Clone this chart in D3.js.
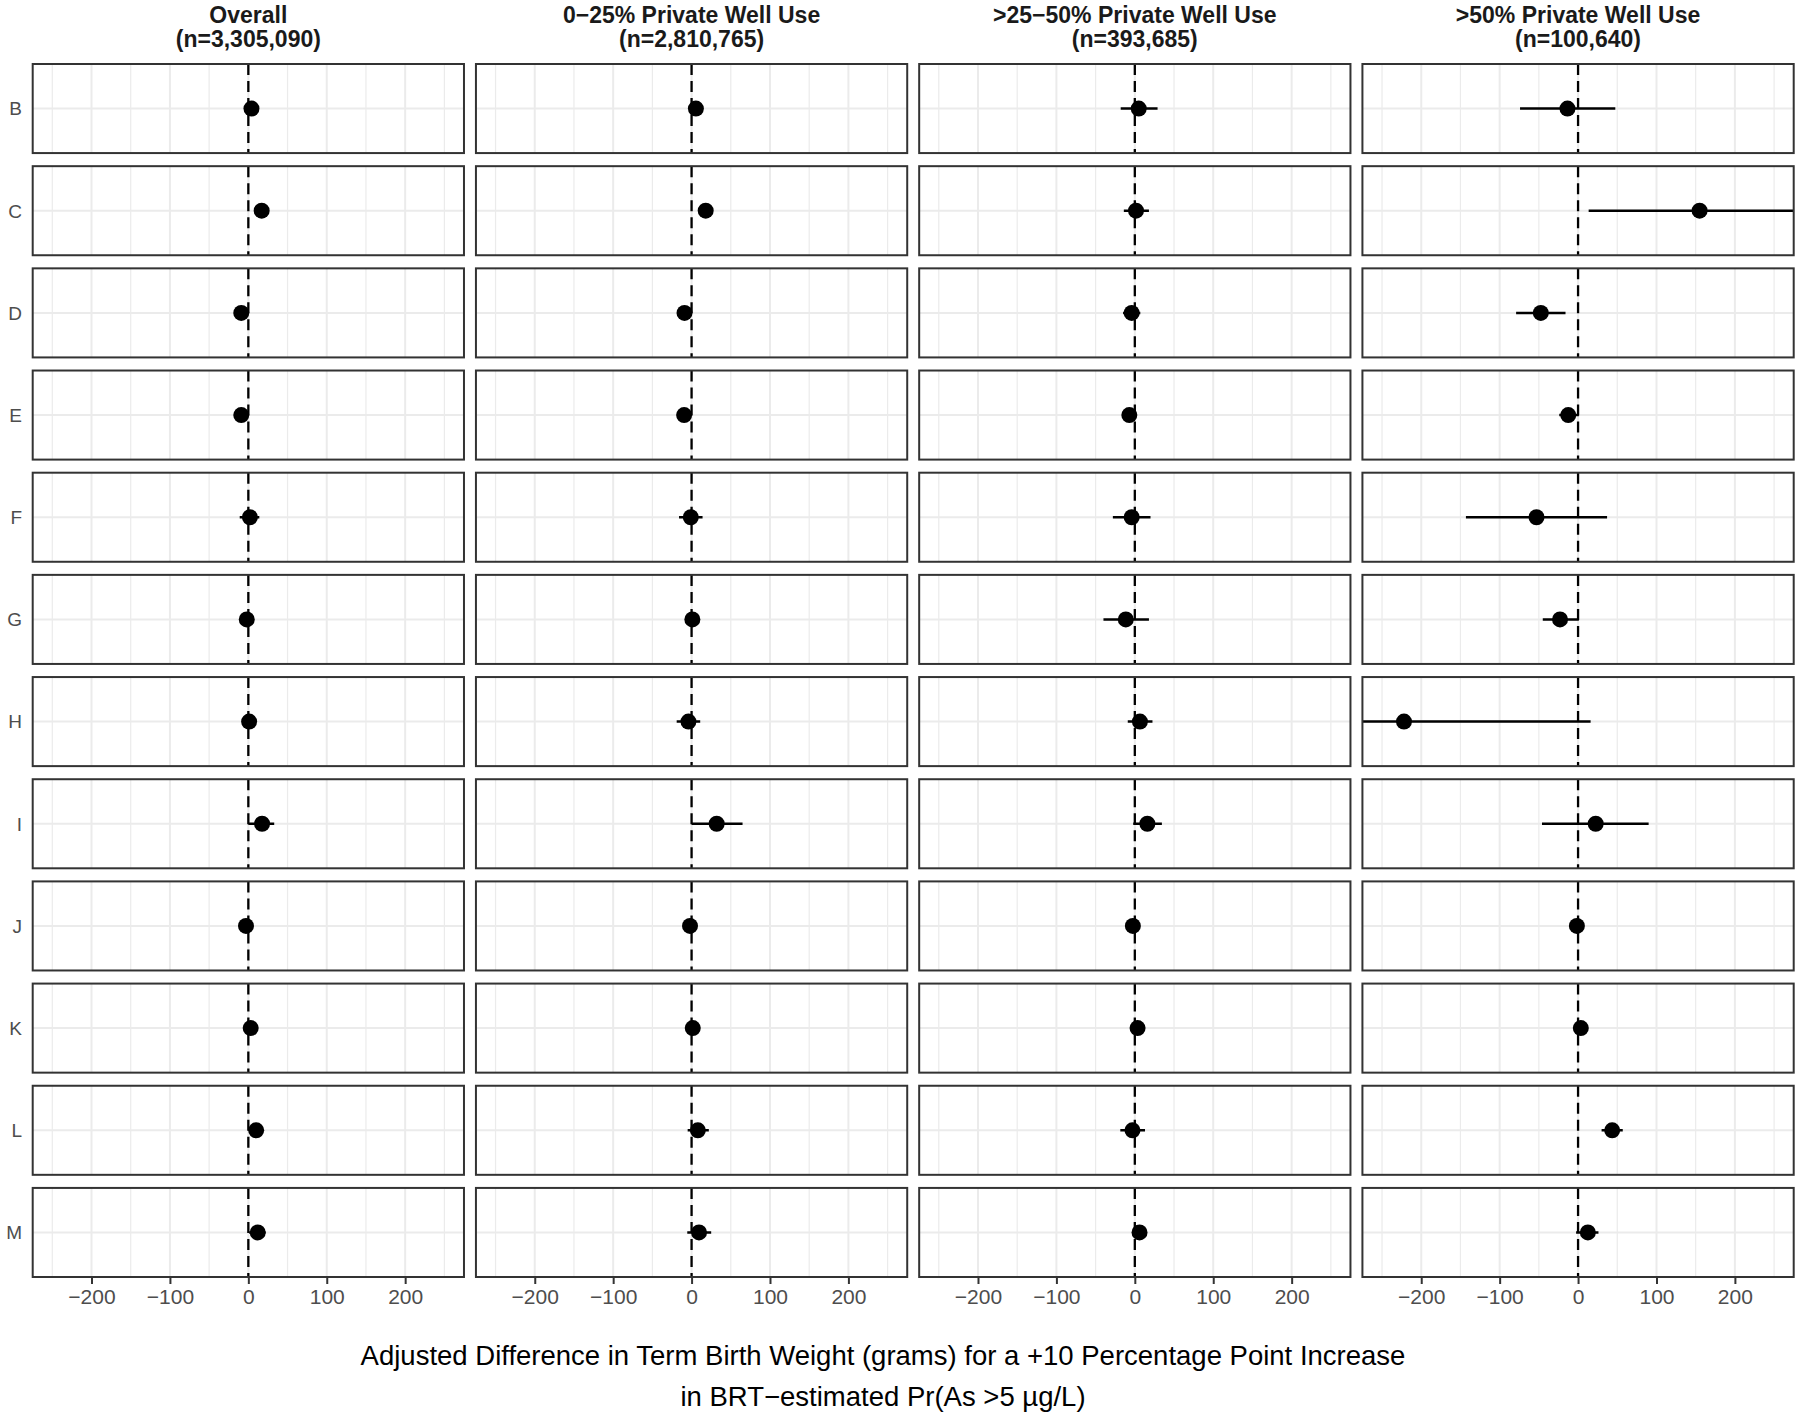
<!DOCTYPE html>
<html>
<head>
<meta charset="utf-8">
<script src="https://cdn.jsdelivr.net/npm/d3@7"></script>
<style>
  body { margin: 0; background: #fff; }
  text { font-family: "Liberation Sans", Arial, Helvetica, sans-serif; }
</style>
</head>
<body>
<svg id="forest" width="1800" height="1416"></svg>
<script>
// categories (rows) and facets (columns)
var rows = ["B", "C", "D", "E", "F", "G", "H", "I", "J", "K", "L", "M"];
var groups = ["Overall", "0\u221225% Private Well Use", ">25\u221250% Private Well Use", ">50% Private Well Use"];
var groupN = ["(n=3,305,090)", "(n=2,810,765)", "(n=393,685)", "(n=100,640)"];

// estimates and 95% CI, one array per facet
var estOverall = [4, 17, -9, -9, 2, -2, 1, 17.5, -3, 3, 10, 12];
var loOverall  = [-2, 10, -15, -14, -11, -7, -5, 0, -8, -2, 4, 1];
var hiOverall  = [10, 24, -3, -4, 14, 3, 7, 33, 2, 8, 16, 22];

var estLow = [5.5, 18, -9, -9.5, -1, 1, -4, 32, -2, 1.5, 8, 9.5];
var loLow  = [0, 12, -15, -15, -16, -4, -19, 0, -7, -3, -5, -5.5];
var hiLow  = [11, 24, -3, -4, 14, 6, 11, 65, 3, 6, 22, 25];

var estMid = [5, 1.5, -4, -7, -4, -11.5, 6.5, 16, -2.5, 3.5, -3, 6];
var loMid  = [-18, -14, -15, -12, -28, -40, -9, -2, -7, -1, -18.5, 0];
var hiMid  = [29, 18, 7, -2, 20, 18, 22.5, 34.5, 2, 8, 13, 12];

var estHigh = [-13.5, 155, -47.5, -12.5, -53, -23, -222, 22.5, -1.5, 3.5, 43.5, 12.5];
var loHigh  = [-74, 13.5, -79, -24, -143, -45, -300, -46, -4, 0, 30, -2.5];
var hiHigh  = [47.5, 300, -16, 1, 37, 1, 16, 90, 1, 7, 57, 26];

// axis ticks
var xDomain = [-275, 275];
var majorTicks = [-200, -100, 0, 100, 200];
var minorTicks = [-250, -150, -50, 50, 150, 250];

var facets = [
  {est: estOverall, lo: loOverall, hi: hiOverall},
  {est: estLow, lo: loLow, hi: hiLow},
  {est: estMid, lo: loMid, hi: hiMid},
  {est: estHigh, lo: loHigh, hi: hiHigh}
];

var svg = d3.select("#forest");

var col = d3.scaleBand()
    .domain(d3.range(groups.length))
    .range([32.7, 1793.7])
    .paddingInner(0.027);

var row = d3.scaleBand()
    .domain(rows)
    .range([64, 1277])
    .paddingInner(0.1283);

var pw = col.bandwidth(), ph = row.bandwidth();

var x = d3.scaleLinear().domain(xDomain).range([0, pw]);

svg.append("defs").append("clipPath")
    .attr("id", "panelClip")
  .append("rect")
    .attr("width", pw)
    .attr("height", ph);

/* facet titles */
groups.forEach(function(gname, gi) {
  var t = svg.append("text")
      .attr("x", col(gi) + pw / 2)
      .attr("text-anchor", "middle")
      .attr("font-size", 23)
      .attr("font-weight", "bold")
      .attr("fill", "#1a1a1a");
  t.append("tspan").attr("x", col(gi) + pw / 2).attr("y", 22.7).text(gname);
  t.append("tspan").attr("x", col(gi) + pw / 2).attr("y", 46.7).text(groupN[gi]);
});

/* row labels */
svg.selectAll(".rowlab")
  .data(rows)
  .enter().append("text")
    .attr("class", "rowlab")
    .attr("x", 22)
    .attr("y", function(d) { return row(d) + ph / 2; })
    .attr("dy", "0.36em")
    .attr("text-anchor", "end")
    .attr("font-size", 19)
    .attr("fill", "#4d4d4d")
    .text(function(d) { return d; });

/* panels */
facets.forEach(function(f, gi) {
  rows.forEach(function(r, ri) {
    var p = svg.append("g")
        .attr("transform", "translate(" + col(gi) + "," + row(r) + ")");

    p.append("rect")
        .attr("width", pw)
        .attr("height", ph)
        .attr("fill", "#fff");

    p.selectAll(".minor")
      .data(minorTicks)
      .enter().append("line")
        .attr("x1", function(d) { return x(d); })
        .attr("x2", function(d) { return x(d); })
        .attr("y1", 0)
        .attr("y2", ph)
        .attr("stroke", "#ebebeb")
        .attr("stroke-width", 1.2);

    p.selectAll(".major")
      .data(majorTicks)
      .enter().append("line")
        .attr("x1", function(d) { return x(d); })
        .attr("x2", function(d) { return x(d); })
        .attr("y1", 0)
        .attr("y2", ph)
        .attr("stroke", "#ebebeb")
        .attr("stroke-width", 2);

    p.append("line")
        .attr("x1", 0)
        .attr("x2", pw)
        .attr("y1", ph / 2)
        .attr("y2", ph / 2)
        .attr("stroke", "#ebebeb")
        .attr("stroke-width", 2);

    // reference line at zero
    p.append("line")
        .attr("x1", x(0))
        .attr("x2", x(0))
        .attr("y1", 0)
        .attr("y2", ph)
        .attr("stroke", "#000")
        .attr("stroke-width", 2.3)
        .attr("stroke-dasharray", "11,6");

    var m = p.append("g").attr("clip-path", "url(#panelClip)");

    m.append("line")
        .attr("x1", x(f.lo[ri]))
        .attr("x2", x(f.hi[ri]))
        .attr("y1", ph / 2)
        .attr("y2", ph / 2)
        .attr("stroke", "#000")
        .attr("stroke-width", 2.5);

    m.append("circle")
        .attr("cx", x(f.est[ri]))
        .attr("cy", ph / 2)
        .attr("r", 8)
        .attr("fill", "#000");

    p.append("rect")
        .attr("width", pw)
        .attr("height", ph)
        .attr("fill", "none")
        .attr("stroke", "#333")
        .attr("stroke-width", 2);
  });

  /* x axis under the bottom row */
  var ax = svg.append("g")
      .attr("transform", "translate(" + col(gi) + "," + (row(rows[rows.length - 1]) + ph) + ")")
      .call(d3.axisBottom(x).tickValues(majorTicks).tickSize(7).tickPadding(5));
  ax.select(".domain").remove();
  ax.selectAll(".tick line").attr("stroke", "#333").attr("stroke-width", 2);
  ax.selectAll(".tick text")
      .attr("fill", "#4d4d4d")
      .attr("font-size", 21)
      .attr("font-family", "Liberation Sans, Arial, sans-serif");
});

/* axis title */
var xt = svg.append("text")
    .attr("text-anchor", "middle")
    .attr("font-size", 27.5)
    .attr("fill", "#000");
xt.append("tspan").attr("x", 883).attr("y", 1365)
    .text("Adjusted Difference in Term Birth Weight (grams) for a +10 Percentage Point Increase");
xt.append("tspan").attr("x", 883).attr("y", 1406)
    .text("in BRT\u2212estimated Pr(As >5 \u00b5g/L)");
</script>
</body>
</html>
